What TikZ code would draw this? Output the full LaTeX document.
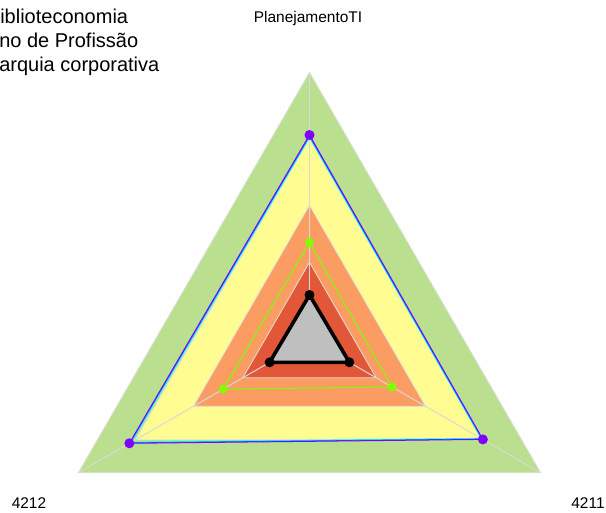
\documentclass[tikz,border=0pt]{standalone}
\usepackage{fontspec}
\setmainfont{Liberation Sans}
\usetikzlibrary{calc,positioning}

\definecolor{bandG}{RGB}{186,223,142}
\definecolor{bandY}{RGB}{255,253,145}
\definecolor{bandO}{RGB}{251,156,99}
\definecolor{bandR}{RGB}{226,87,55}
\definecolor{serP}{RGB}{127,0,255}
\definecolor{serB}{RGB}{0,110,255}
\definecolor{serC}{RGB}{0,255,255}
\definecolor{serG}{RGB}{128,255,0}

\begin{document}
\begin{tikzpicture}[%
      x=0.75pt, y=-0.75pt,        % one unit is one pixel, y going down
      line join=round,
      ]
  \tikzset{
    band/.style={draw=black!12, line width=0.6pt},
    axis/.style={draw=black!15, line width=0.75pt},
    dot/.style={circle, inner sep=0pt, minimum size=#1},
    lbl/.style={font=\fontsize{11.6}{14}\selectfont, inner sep=0pt, anchor=base},
    leg/.style={font=\fontsize{15}{18}\selectfont, inner sep=0pt, anchor=base west},
  }
  \useasboundingbox (0,0) rectangle (606,513);

  % Center and ends of the axes
  \coordinate (c)  at (309.5,339.3);
  \coordinate (aT) at ($(c)+(270:267)$);
  \coordinate (aR) at ($(c)+(30:267)$);
  \coordinate (aL) at ($(c)+(150:267)$);

  % Bands, outside in
  \foreach \r/\col in {267/bandG, 201/bandY, 134/bandO, 77/bandR}
    \filldraw [band, fill=\col] ($(c)+(270:\r)$) -- ($(c)+(30:\r)$) -- ($(c)+(150:\r)$) -- cycle;

  % Axes
  \draw [axis] (c) -- (aT);
  \draw [axis] (c) -- (aR);
  \draw [axis] (c) -- (aL);

  % Points of the series (top / right / left)
  \foreach \s/\t/\rr/\l in {c/202.3/198.6/206.2, b/203.2/199.4/207, p/204.3/200.2/208, g/97/95.3/99.8, k/44.3/46/46} {
    \coordinate (\s1) at ($(c)+(270:\t)$);
    \coordinate (\s2) at ($(c)+(30:\rr)$);
    \coordinate (\s3) at ($(c)+(150:\l)$);
  }

  % Series
  \draw [serC, line width=1.1pt]  (c1) -- (c2) -- (c3) -- cycle;
  \draw [serB, line width=0.5pt]  (b1) -- (b2) -- (b3) -- cycle;
  \draw [serP, line width=0.75pt] (p1) -- (p2) -- (p3) -- cycle;
  \draw [serG, line width=0.8pt]  (g1) -- (g2) -- (g3) -- cycle;
  \filldraw [fill=black!25, draw=black, line width=2.7pt] (k1) -- (k2) -- (k3) -- cycle;

  % Markers
  \foreach \s/\col/\d in {p/serP/10, g/serG/9, k/black/10}
    \foreach \i in {1,2,3}
      \node [dot=\d*0.75pt, fill=\col] (m\s\i) at (\s\i) {};

  % Axis labels
  \node [lbl] (lT) at (308,22.7) {PlanejamentoTI};
  \node [lbl] (lL) at (29,508.3)  {4212};
  \node [lbl] (lR) at (588,508.3) {4211};

  % Legend (cut at the left edge)
  \node [leg] (g1t) at (0,23.3) {iblioteconomia};
  \node [leg] (g2t) at (-1,48)  {no de Profissão};
  \node [leg] (g3t) at (-1,72)  {arquia corporativa};

\end{tikzpicture}
\end{document}
